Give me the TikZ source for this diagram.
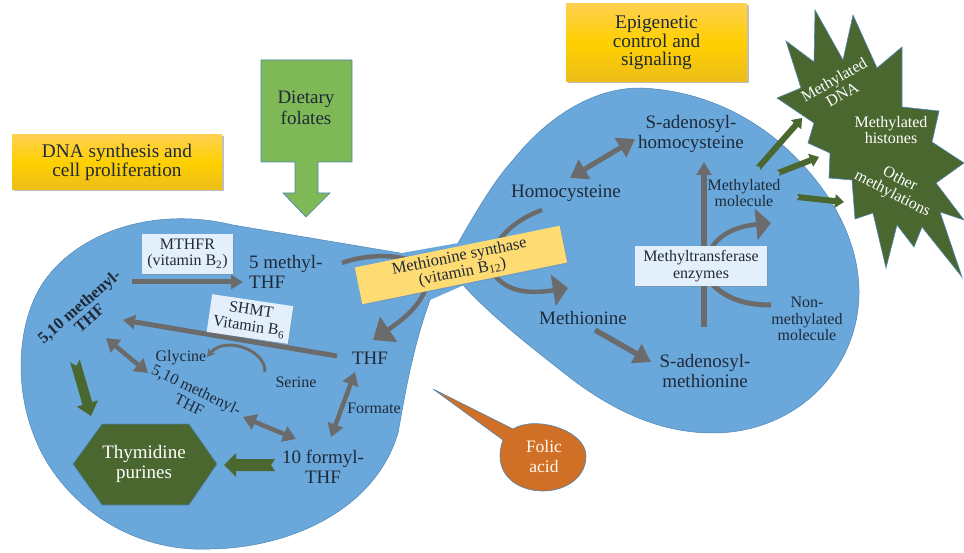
\documentclass[tikz,border=0pt]{standalone}
\usepackage{fontspec}
\setmainfont{Liberation Serif}
\usetikzlibrary{arrows.meta,shadows,calc}
\definecolor{blobc}{HTML}{6AA8DC}
\definecolor{edgec}{HTML}{4F86B5}
\definecolor{darkg}{HTML}{4A6730}
\definecolor{greyc}{HTML}{6B6B6B}
\definecolor{labelc}{HTML}{E3EFFA}
\definecolor{txt}{HTML}{1F2A38}
\definecolor{goldt}{HTML}{FFD04F}
\definecolor{goldm}{HTML}{FFD000}
\definecolor{goldb}{HTML}{ECBD1A}
\definecolor{leaf}{HTML}{7FB857}
\definecolor{ochre}{HTML}{D07026}
\definecolor{butter}{HTML}{FFDC73}
\newcommand{\blk}[7][darkg]{%
  \coordinate (N) at ($(#3)!#5!(#2)$);
  \fill[#1] ($(#2)!#4!90:(#3)$) -- ($(#2)!#7!(#3)$) -- ($(#2)!#4!-90:(#3)$)
    -- ($(N)!#4!-90:(#3)$) -- ($(N)!#6!-90:(#3)$) -- (#3)
    -- ($(N)!#6!90:(#3)$) -- ($(N)!#4!90:(#3)$) -- cycle;}
\tikzset{
  lbl/.style={text=txt,align=center,font=\fontsize{19}{20.5}\selectfont,inner sep=0pt},
  smalltx/.style={text=txt,align=center,font=\fontsize{16}{16.5}\selectfont,inner sep=0pt},
  wbox/.style={fill=labelc,align=center,text=txt,font=\fontsize{16}{16.5}\selectfont,inner sep=0pt,drop shadow={shadow xshift=1pt,shadow yshift=-1pt,opacity=.35}},
  goldbox/.style={top color=goldt,bottom color=goldb,middle color=goldm,align=center,text=txt,font=\fontsize{19.3}{18.5}\selectfont,inner sep=0pt,drop shadow={shadow xshift=1.5pt,shadow yshift=-1.5pt,opacity=.5}},
  blob/.style={fill=blobc,draw=edgec,line width=.5pt},
  arrowg/.style={-{Triangle[length=12pt,width=14pt]},greyc,line width=5pt},
  arrowgg/.style={{Triangle[length=13pt,width=16pt]}-{Triangle[length=13pt,width=16pt]},greyc,line width=4.5pt},
  arrowcv/.style={-{Triangle[length=15pt,width=31pt]},greyc,line width=4.5pt},
}
\begin{document}
\begin{tikzpicture}[x=1pt,y=-1pt]
\useasboundingbox (0,0) rectangle (964,553);
% blobs
\path[blob]
 (233,225) .. controls (150,205) and (75,235) .. (43,283)
 .. controls (15,325) and (10,405) .. (50,467)
 .. controls (85,520) and (145,552) .. (210,549)
 .. controls (290,548) and (375,510) .. (398,433)
 .. controls (405,395) and (412,350) .. (430,300)
 -- (400,253) -- cycle;
\path[blob]
 (458,243) .. controls (480,205) and (495,180) .. (513,160)
 .. controls (545,120) and (590,88) .. (640,88)
 .. controls (700,90) and (745,115) .. (773,137)
 .. controls (820,175) and (858,230) .. (859,290)
 .. controls (860,370) and (795,433) .. (713,433)
 .. controls (665,433) and (620,415) .. (573,380)
 .. controls (535,350) and (495,320) .. (463,285) -- cycle;
\fill[blobc] (400,253.3) -- (458.5,243) -- (464,285) -- (430,300) -- cycle;
% dietary folates
\draw[fill=leaf,draw=edgec,line width=.7pt] (261,60) -- (352,60) -- (352,162) -- (318,162) -- (318,193) -- (330,193) -- (306,217) -- (283,193) -- (295,193) -- (295,162) -- (261,162) -- cycle;
\node[lbl] (folate) at (306,108) {Dietary\\folates};
% gold boxes
\node[goldbox,minimum width=210pt,minimum height=55pt] (dna) at (117,162.5) {DNA synthesis and\\cell proliferation};
\node[goldbox,minimum width=181pt,minimum height=78pt] (epi) at (656.5,43) {Epigenetic\\control and\\signaling};
% folic acid
\path[fill=ochre,draw=edgec,line width=.6pt] (433,389) -- (513,429)
  .. controls (535,415) and (586,430) .. (586,456)
  .. controls (586,478) and (565,491) .. (543,491)
  .. controls (520,491) and (500,478) .. (500,456)
  .. controls (500,451) and (501,445) .. (503,440) -- cycle;
\node[lbl,text=white!95!orange,font=\fontsize{17.5}{20}\selectfont] (folic) at (544,457) {Folic\\acid};
% starburst
\path[fill=darkg,draw=edgec,line width=.6pt]
 (815,10) -- (843,60) -- (853,15) -- (877,68) -- (902,47) -- (902,107) -- (939,111) -- (932,142) -- (964,163) -- (936,183) -- (964,220) -- (940,212) -- (962,277) -- (922,227) -- (914,247) -- (897,225) -- (886,268) -- (873,213) -- (855,219) -- (852,180) -- (829,178) -- (830,153) -- (808,143) -- (814,123) -- (777,98) -- (801,88) -- (786,41) -- (814,62) -- cycle;
\node[smalltx,text=white,rotate=30] (mdna) at (838,87) {Methylated\\DNA};
\node[smalltx,text=white] (mhis) at (891,130) {Methylated\\histones};
\node[smalltx,text=white,rotate=-27] (oth) at (896,187) {Other\\methylations};
% labels left
\node[wbox,minimum width=91pt,minimum height=40pt] (mthfr) at (187.5,254) {MTHFR\\(vitamin B\textsubscript{2})};
\node[lbl,align=left,anchor=west] (fivem) at (249,272) {5 methyl-\\THF};
\node[smalltx,rotate=41,font=\bfseries\fontsize{16.5}{15.5}\selectfont] (mthnb) at (84,312) {5,10 methenyl-\\THF};
\node[lbl] (thf) at (370,358) {THF};
\node[smalltx] (gly) at (181,358) {Glycine};
\node[smalltx] (ser) at (296,382) {Serine};
\node[smalltx] (form) at (374,408) {Formate};
\node[smalltx,rotate=-25.5] (mthn) at (193,397) {5,10 methenyl-\\THF};
\node[lbl] (tenf) at (323,467) {10 formyl-\\THF};
\path[fill=darkg,draw=edgec,line width=.6pt] (73,464) -- (102,424) -- (189,424) -- (217,464) -- (189,505) -- (102,505) -- cycle;
\node[lbl,text=white] (thy) at (144,464) {Thymidine\\purines};
% labels right
\node[lbl] (hcy) at (566,193) {Homocysteine};
\node[lbl] (sah) at (691,134) {S-adenosyl-\\homocysteine};
\node[lbl] (met) at (583,318) {Methionine};
\node[lbl] (sam) at (705,371) {S-adenosyl-\\methionine};
\node[smalltx] (mm) at (744,193) {Methylated\\molecule};
\node[smalltx] (nm) at (807,319) {Non-\\methylated\\molecule};
% end coordinates
\coordinate (a1s) at (132,282); \coordinate (a1e) at (243,282);
\coordinate (a2s) at (337,356); \coordinate (a2e) at (123,320);
\coordinate (a3s) at (106,338); \coordinate (a3e) at (148,373);
\coordinate (a4s) at (243,417); \coordinate (a4e) at (296,439);
\coordinate (a5s) at (355,372); \coordinate (a5e) at (331,437);
\coordinate (a6s) at (635,139); \coordinate (a6e) at (570,178);
\coordinate (a7s) at (595,330); \coordinate (a7e) at (651,362);
\coordinate (a8s) at (704,327); \coordinate (a8e) at (704,162);
\coordinate (g1s) at (75,361); \coordinate (g1e) at (91,416);
\coordinate (g2s) at (275,465); \coordinate (g2e) at (224,465);
\coordinate (g3s) at (758,168); \coordinate (g3e) at (802,118);
\coordinate (g4s) at (778,173); \coordinate (g4e) at (819,157);
\coordinate (g5s) at (797,197); \coordinate (g5e) at (844,202);
% grey straight arrows
\draw[arrowg] (a1s) -- (a1e);
\draw[arrowg] (a2s) -- (a2e);
\draw[arrowgg] (a3s) -- (a3e);
\draw[arrowgg] (a4s) -- (a4e);
\draw[arrowgg] (a5s) -- (a5e);
\draw[arrowgg,{Triangle[length=17pt,width=22pt]}-{Triangle[length=17pt,width=22pt]},line width=5pt] (a6s) -- (a6e);
\draw[arrowg,line width=5.5pt,-{Triangle[length=17pt,width=21pt]}] (a7s) -- (a7e);
\draw[arrowg,line width=6pt,-{Triangle[length=13pt,width=15pt]}] (a8s) -- (a8e);
% green arrows
\blk{g1s}{g1e}{5pt}{13pt}{11pt}{5pt}
\blk{g2s}{g2e}{6pt}{12pt}{12pt}{4pt}
\blk{g3s}{g3e}{3pt}{9pt}{7pt}{2pt}
\blk{g4s}{g4e}{3pt}{9pt}{7pt}{2pt}
\blk{g5s}{g5e}{3pt}{9pt}{7pt}{2pt}
% grey curves
\coordinate (c1s) at (342,263); \coordinate (c1e) at (373,340);
\draw[arrowcv,-{Triangle[length=19pt,width=30pt]}] (c1s) .. controls (375,250) and (450,252) .. (420,300) .. controls (410,315) and (395,325) .. (c1e);
\coordinate (c2s) at (542,210); \coordinate (c2e) at (568,288);
\draw[arrowcv] (c2s) .. controls (500,225) and (480,260) .. (497,278) .. controls (510,292) and (530,294) .. (c2e);
\coordinate (c3s) at (712,247); \coordinate (c3e) at (771,223);
\draw[arrowcv] (c3s) .. controls (722,232) and (740,226) .. (c3e);
\coordinate (c4s) at (713,285); \coordinate (c4e) at (771,305);
\draw[greyc,line width=5pt] (c4s) .. controls (728,300) and (748,305) .. (c4e);
\coordinate (c5s) at (265,372); \coordinate (c5e) at (207,357);
\draw[greyc,line width=3pt,-{Stealth[length=8pt,width=9pt]}] (c5s) .. controls (266,350) and (225,335) .. (c5e);
% boxes on top
\node[wbox,minimum width=82pt,minimum height=38pt,rotate=-8.4] (shmt) at (250,319) {SHMT\\Vitamin B\textsubscript{6}};
\node[wbox,minimum width=132pt,minimum height=40pt] (mte) at (701,266) {Methyltransferase\\enzymes};
\node[wbox,fill=butter,minimum width=209pt,minimum height=37.5pt,rotate=11.5,font=\fontsize{16.5}{16}\selectfont] (ms) at (461,265) {Methionine synthase\\(vitamin B\textsubscript{12})};
\end{tikzpicture}
\end{document}
